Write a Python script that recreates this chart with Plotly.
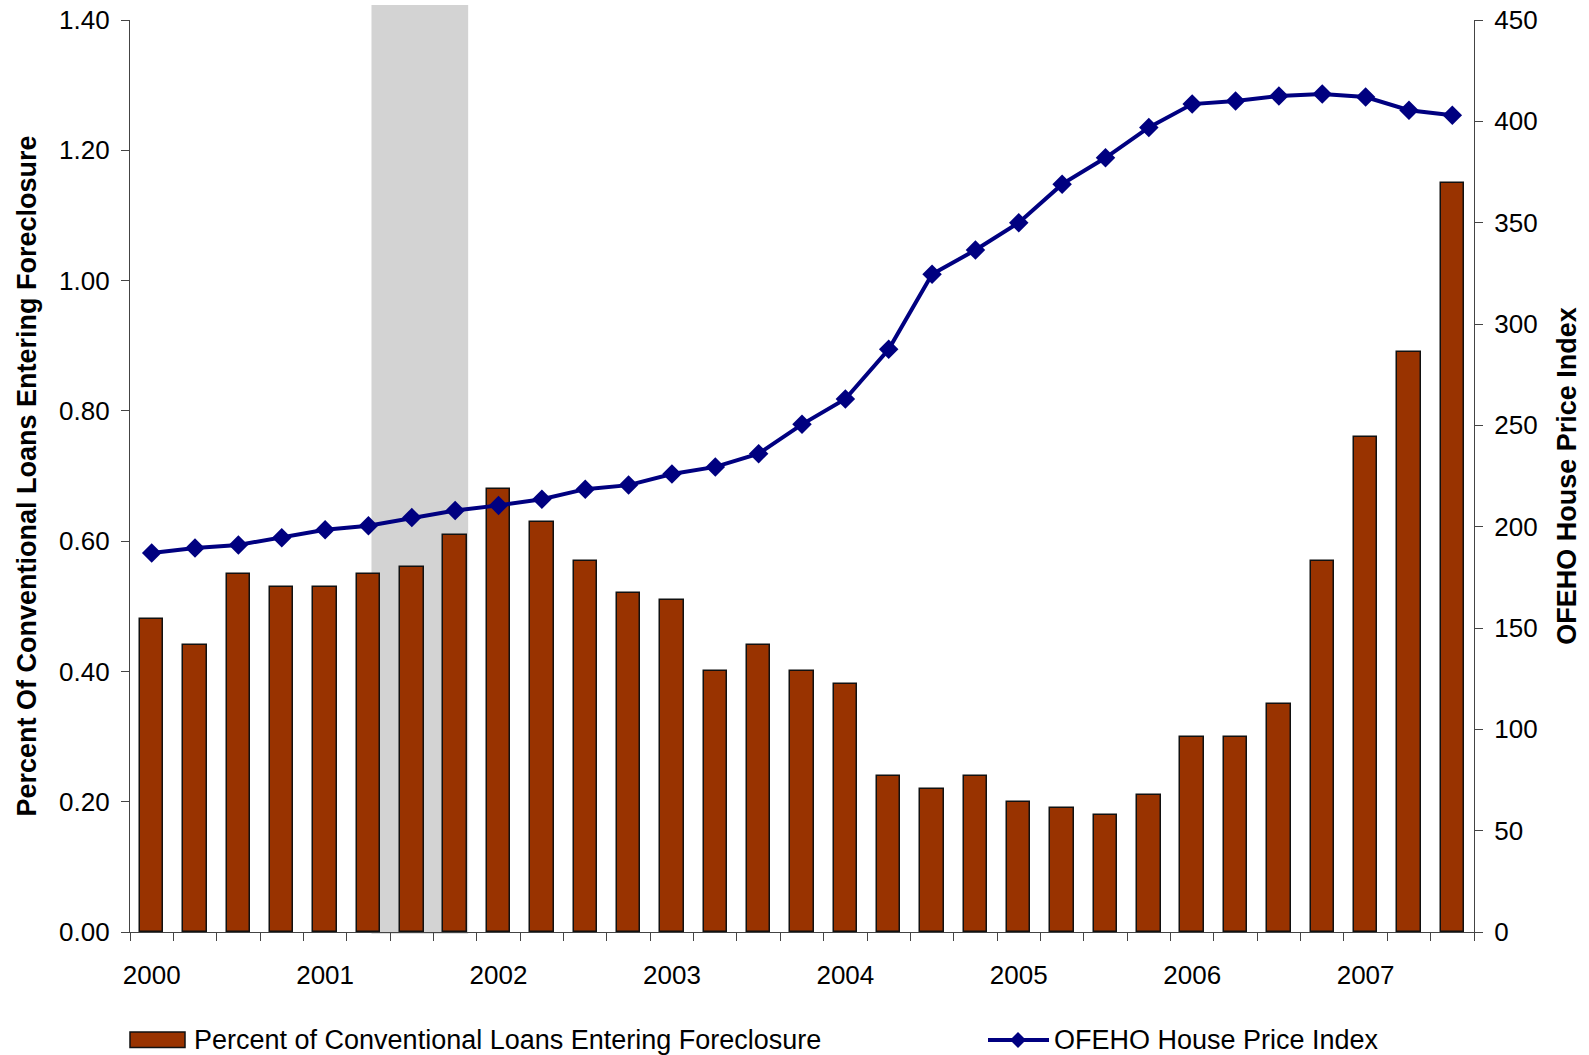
import plotly.graph_objects as go

quarters = [f"{y}Q{q}" for y in range(2000, 2008) for q in range(1, 5)][:31]
foreclosure_pct = [0.48, 0.44, 0.55, 0.53, 0.53, 0.55, 0.56, 0.61, 0.68, 0.63, 0.57,
                   0.52, 0.51, 0.40, 0.44, 0.40, 0.38, 0.24, 0.22, 0.24, 0.20, 0.19,
                   0.18, 0.21, 0.30, 0.30, 0.35, 0.57, 0.76, 0.89, 1.15]
hpi = [187, 189.5, 191, 194.5, 198.5, 200.5, 204.5, 208, 210.5, 213.5, 218.5,
       220.5, 226, 229.5, 236, 250.5, 263, 287.5, 324.5, 336.5, 350, 369, 382,
       397, 408.5, 410, 412.5, 413.5, 412, 405.5, 403]
year_labels = ["2000", "2001", "2002", "2003", "2004", "2005", "2006", "2007"]
recession = [5.07, 7.30]  # quarter-index span of the 2001 recession
bar_name = "Percent of Conventional Loans Entering Foreclosure"
line_name = "OFEHO House Price Index"

x_idx = list(range(len(quarters)))
year_pos = [4 * i for i in range(len(year_labels))]

FONT = "Arial, Liberation Sans, sans-serif"
W, H = 1589, 1055
ML, MR, MT, MB = 130, 115, 20, 123
PW, PH = W - ML - MR, H - MT - MB


def px_x(p):
    return (p - ML) / PW


def px_y(p):
    return (H - MB - p) / PH


BAR_COLOR = "#993300"
LINE_COLOR = "#000080"

fig = go.Figure()
fig.add_trace(go.Bar(
    x=x_idx, y=foreclosure_pct, name=bar_name,
    marker=dict(color=BAR_COLOR, line=dict(color="#111111", width=1.5)),
    width=0.54, xaxis="x", yaxis="y", showlegend=False,
))
fig.add_trace(go.Scatter(
    x=x_idx, y=hpi, name=line_name, mode="lines+markers",
    line=dict(color=LINE_COLOR, width=4),
    marker=dict(symbol="diamond", size=15, color=LINE_COLOR),
    xaxis="x", yaxis="y2", showlegend=False,
))
# dummy trace to register xaxis2 so the year labels appear
fig.add_trace(go.Scatter(x=[0], y=[0], xaxis="x2", yaxis="y", mode="markers",
                         marker=dict(opacity=0), showlegend=False, hoverinfo="skip"))

# recession shading
fig.add_shape(type="rect", xref="x", yref="paper", x0=recession[0], x1=recession[1],
              y0=-0.002, y1=1.0165, fillcolor="#d3d3d3", line=dict(width=0), layer="below")

# manual legend (wide swatches as in the original)
leg_y = 1040
fig.add_shape(type="rect", xref="paper", yref="paper",
              x0=px_x(130), x1=px_x(185), y0=px_y(1047.5), y1=px_y(1032),
              fillcolor=BAR_COLOR, line=dict(color="#111111", width=1.5))
fig.add_annotation(xref="paper", yref="paper", x=px_x(192), y=px_y(leg_y),
                   xanchor="left", yanchor="middle", showarrow=False, text=bar_name,
                   font=dict(size=27, family=FONT, color="black"))
fig.add_shape(type="line", xref="paper", yref="paper",
              x0=px_x(988), x1=px_x(1049), y0=px_y(leg_y), y1=px_y(leg_y),
              line=dict(color=LINE_COLOR, width=4))
fig.add_shape(type="path", xref="paper", yref="paper", xsizemode="pixel", ysizemode="pixel",
              xanchor=px_x(1018), yanchor=px_y(leg_y),
              path="M -8 0 L 0 8 L 8 0 L 0 -8 Z", fillcolor=LINE_COLOR,
              line=dict(color=LINE_COLOR, width=0))
fig.add_annotation(xref="paper", yref="paper", x=px_x(1052), y=px_y(leg_y),
                   xanchor="left", yanchor="middle", showarrow=False, text=line_name,
                   font=dict(size=27, family=FONT, color="black"))

axis_common = dict(ticks="outside", ticklen=8, tickcolor="#444", showline=True,
                   linecolor="#444", linewidth=1.2, showgrid=False, zeroline=False,
                   automargin=False)

fig.update_layout(
    width=W, height=H,
    margin=dict(l=ML, r=MR, t=MT, b=MB),
    plot_bgcolor="white", paper_bgcolor="white",
    font=dict(family=FONT, size=26, color="black"),
    showlegend=False,
    bargap=0,
    xaxis=dict(range=[-0.5, 30.5], tickmode="array",
               tickvals=[i - 0.5 for i in range(32)], showticklabels=False,
               **axis_common),
    xaxis2=dict(range=[-0.5, 30.5], overlaying="x", anchor="y", side="bottom",
                tickmode="array", tickvals=year_pos, ticktext=year_labels,
                ticks="", showgrid=False, showline=False, zeroline=False,
                automargin=False, ticklabelstandoff=25, tickfont=dict(size=26)),
    yaxis=dict(range=[0, 1.4], tickvals=[0, 0.2, 0.4, 0.6, 0.8, 1.0, 1.2, 1.4],
               tickformat=".2f", tickfont=dict(size=26), ticklabelstandoff=6,
               title=dict(text="<b>Percent Of Conventional Loans Entering Foreclosure</b>",
                          font=dict(size=27), standoff=14),
               **axis_common),
    yaxis2=dict(range=[0, 450], tickvals=list(range(0, 451, 50)), overlaying="y",
                side="right", anchor="x", tickfont=dict(size=26), ticklabelstandoff=6,
                title=dict(text="<b>OFEHO House Price Index</b>", font=dict(size=27),
                           standoff=20),
                **axis_common),
)

fig.write_html("out.html")
